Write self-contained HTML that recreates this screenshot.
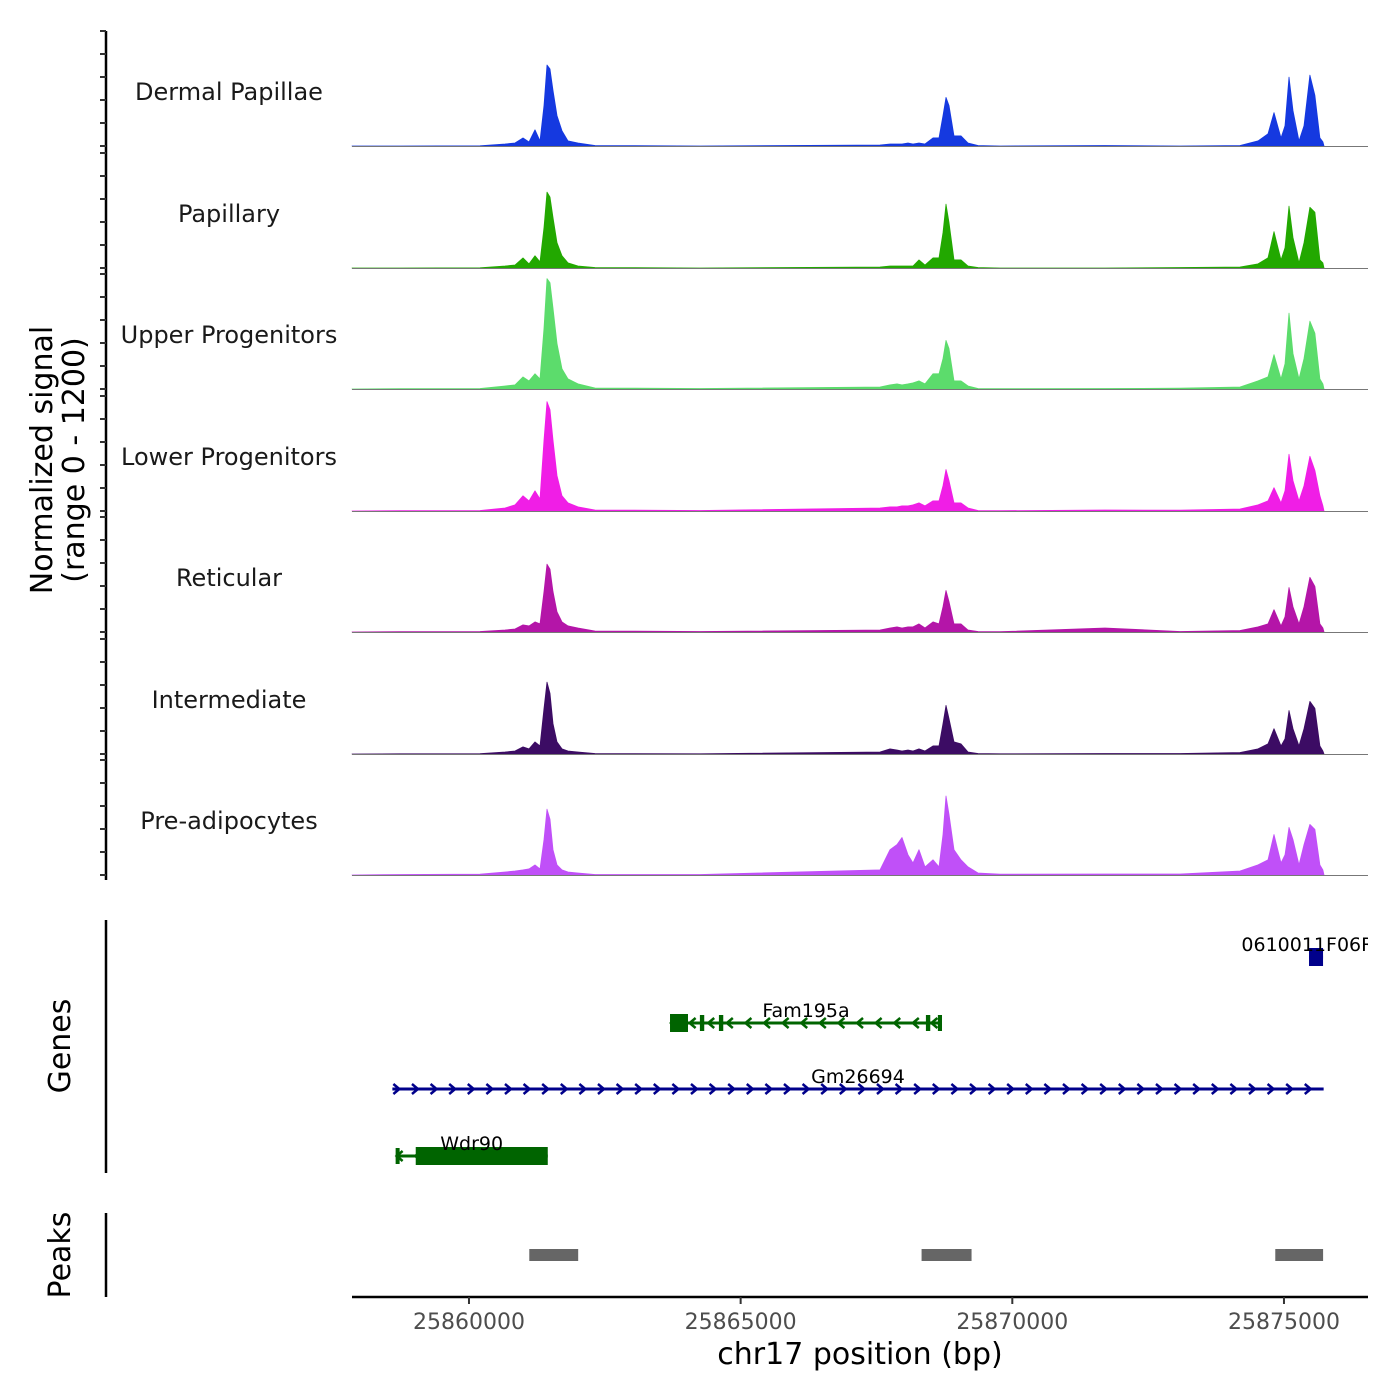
<!DOCTYPE html>
<html><head><meta charset="utf-8">
<style>
html,body{margin:0;padding:0;background:#fff;}
svg{display:block;font-family:"DejaVu Sans","Liberation Sans",sans-serif;}
</style></head>
<body>
<svg id="chart" width="1400" height="1400" viewBox="0 0 1400 1400" xmlns="http://www.w3.org/2000/svg">
<rect width="1400" height="1400" fill="#fff"/>
<text transform="translate(52,460) rotate(-90)" text-anchor="middle" font-size="30" fill="#000">Normalized signal</text>
<text transform="translate(84,460) rotate(-90)" text-anchor="middle" font-size="30" fill="#000">(range 0 - 1200)</text>
<text transform="translate(70,1046) rotate(-90)" text-anchor="middle" font-size="30" fill="#000">Genes</text>
<text transform="translate(70,1255) rotate(-90)" text-anchor="middle" font-size="30" fill="#000">Peaks</text>
<text x="860" y="1364" text-anchor="middle" font-size="30" fill="#000">chr17 position (bp)</text>
<g id="layer"></g>
</svg>
<script>
const positions=[25857847,25858730,25860203,25860663,25860847,25860994,25861105,25861215,25861307,25861381,25861436,25861491,25861546,25861620,25861712,25861822,25862007,25862319,25864252,25867565,25867749,25867878,25867970,25868080,25868172,25868283,25868393,25868540,25868651,25868724,25868780,25868835,25868927,25869056,25869184,25869369,25869773,25871706,25873086,25874191,25874522,25874706,25874816,25874945,25875019,25875092,25875166,25875276,25875368,25875478,25875570,25875662,25875717,25875736];
const trackNames=["Dermal Papillae","Papillary","Upper Progenitors","Lower Progenitors","Reticular","Intermediate","Pre-adipocytes"];
const trackColors=["#1539e0","#22a800","#5cdc6c","#f01ee6","#b415a8","#3c0c64","#c050f8"];
const dermalValues=[0,0,2,20,30,80,40,160,50,400,800,760,550,300,150,50,30,5,0,10,20,20,20,30,20,30,20,80,80,300,480,400,100,100,30,5,0,5,0,5,50,120,330,80,200,680,350,50,200,700,500,80,40,0];
const papillaryValues=[0,0,2,20,30,100,40,120,60,400,750,700,500,250,120,50,20,5,0,10,20,20,20,20,20,80,30,100,100,350,630,450,80,80,20,5,0,0,5,10,40,100,360,80,200,610,300,50,250,600,550,80,50,0];
const upperValues=[0,3,5,30,40,120,80,150,100,600,1090,1050,800,450,200,100,50,10,5,20,40,50,40,50,60,80,50,150,150,300,480,400,80,80,30,5,3,5,8,20,80,120,340,100,250,750,350,100,300,670,550,100,50,0];
const lowerValues=[0,3,5,30,60,150,100,200,120,700,1080,1000,700,350,150,80,40,10,5,30,40,40,50,50,60,80,50,100,100,250,410,300,80,80,30,5,3,10,8,20,60,100,230,80,200,560,300,100,250,540,400,150,50,0];
const reticularValues=[0,3,5,20,30,70,60,100,80,400,670,620,400,200,100,60,40,10,5,20,40,50,40,50,50,80,40,100,80,250,410,300,80,80,20,5,3,40,5,15,50,80,220,60,150,440,250,80,250,540,450,80,40,0];
const intermediateValues=[0,2,4,20,30,70,50,120,80,450,710,600,300,120,50,30,20,5,2,20,50,40,30,40,30,50,30,80,80,300,480,350,120,100,20,5,2,5,5,15,50,100,250,80,150,430,250,80,250,520,450,80,30,0];
const preadipValues=[0,5,8,30,40,50,60,100,60,350,650,550,250,100,50,30,20,5,5,50,250,300,370,200,120,250,80,150,80,400,780,600,250,150,80,20,8,10,10,40,100,150,400,120,200,470,350,100,300,500,450,100,50,0];
const trackValues=[dermalValues,papillaryValues,upperValues,lowerValues,reticularValues,intermediateValues,preadipValues];
const xTicks=[25860000,25865000,25870000,25875000];
const peakStarts=[25861110,25868330,25874840];
const peakEnds=[25862010,25869250,25875720];
const geneNames=["0610011F06Rik","Fam195a","Gm26694","Wdr90"];
const geneStarts=[25875461,25863700,25858590,25858650];
const geneEnds=[25875719,25868706,25875730,25861450];
const geneStrands=[1,-1,1,-1];
const geneRows=[0,1,2,3];
const geneColors=["#00008b","#006400","#00008b","#006400"];
const geneExonStarts=[[25875461],[25863700,25864250,25864600,25868410,25868630],[],[25858650,25859020]];
const geneExonEnds=[[25875719],[25864031,25864330,25864680,25868490,25868706],[],[25858720,25861450]];

const NS="http://www.w3.org/2000/svg";
const layer=document.getElementById('layer');
const X0=25857847, PX=0.054333, LEFT=352, RIGHT=1368;
function xs(bp){return LEFT+(bp-X0)*PX;}
const baselines=[146,268,389,511,632,754,875];
const unitPx=121.5/1200;
function ys(v,t){return baselines[t]-v*unitPx;}
function mk(tag,attrs,parent){const e=document.createElementNS(NS,tag);for(const k in attrs)e.setAttribute(k,attrs[k]);(parent||layer).appendChild(e);return e;}

const ax=mk('line',{x1:106,y1:31,x2:106,y2:880,stroke:'#000','stroke-width':2.5});


for(let t=0;t<7;t++){
  for(let k=0;k<6;k++){
    const y=baselines[t]-k*23;
    const tk=mk('line',{x1:100,y1:y,x2:106,y2:y,stroke:'#333','stroke-width':2});
    
    
  }
  const g=mk('g',{});
  
  
  let d='M'+xs(positions[0]).toFixed(1)+','+baselines[t];
  const vals=trackValues[t];
  for(let i=0;i<positions.length;i++){d+=' L'+xs(positions[i]).toFixed(1)+','+ys(vals[i],t).toFixed(1);}
  d+=' L'+xs(positions[positions.length-1]).toFixed(1)+','+baselines[t]+' Z';
  const p=mk('path',{d:d,fill:trackColors[t],stroke:trackColors[t],'stroke-width':0.8,'stroke-linejoin':'round'},g);
  
  
  const bl=mk('line',{x1:LEFT,y1:baselines[t]+0.5,x2:RIGHT,y2:baselines[t]+0.5,stroke:'#777','stroke-width':1},g);
  
  
  const lb=mk('text',{x:229,y:baselines[t]-46,'text-anchor':'middle','font-size':24,fill:'#1a1a1a'},g);
  lb.textContent=trackNames[t];
  
  
}

const gax=mk('line',{x1:106,y1:920,x2:106,y2:1173,stroke:'#000','stroke-width':2.5});


const rowY=[957,1023,1089,1156];
const defs=mk('defs',{});
const clip=mk('clipPath',{id:'gclip'},defs);
mk('rect',{x:LEFT,y:900,width:RIGHT-LEFT,height:300},clip);
const gg=mk('g',{'clip-path':'url(#gclip)'});
for(let i=0;i<geneNames.length;i++){
  const g=mk('g',{},gg);
  
  
  const y=rowY[geneRows[i]], c=geneColors[i];
  const x1=xs(geneStarts[i]), x2=xs(geneEnds[i]);
  mk('line',{x1:x1,y1:y,x2:x2,y2:y,stroke:c,'stroke-width':3},g);
  for(let x=x1+4;x<x2-2;x+=18.6){
    const s=geneStrands[i];
    const d=s>0?`M${x-3},${y-5} L${x+3},${y} L${x-3},${y+5}`:`M${x+3},${y-5} L${x-3},${y} L${x+3},${y+5}`;
    mk('path',{d:d,fill:'none',stroke:c,'stroke-width':2.5},g);
  }
  for(let e=0;e<geneExonStarts[i].length;e++){
    const ex1=xs(geneExonStarts[i][e]), ex2=xs(geneExonEnds[i][e]);
    const w=Math.max(4,ex2-ex1);
    const thin=(w<8);
    mk('rect',{x:ex1,y:y-(thin?8:9),width:w,height:thin?16:18,fill:c},g);
  }
  const cx=(x1+x2)/2;
  const t=mk('text',{x:cx,y:y-6,'text-anchor':'middle','font-size':19,fill:'#000'},g);
  t.textContent=geneNames[i];
  
  
}

const pax=mk('line',{x1:106,y1:1213,x2:106,y2:1297,stroke:'#000','stroke-width':2.5});


for(let i=0;i<peakStarts.length;i++){
  const r=mk('rect',{x:xs(peakStarts[i]),y:1249,width:xs(peakEnds[i])-xs(peakStarts[i]),height:12,fill:'#666'});
  
  
}

const xa=mk('line',{x1:LEFT,y1:1297,x2:RIGHT,y2:1297,stroke:'#000','stroke-width':2.5});


for(const v of xTicks){
  const x=xs(v);
  const tk=mk('line',{x1:x,y1:1297,x2:x,y2:1304,stroke:'#333','stroke-width':2});
  
  
  const t=mk('text',{x:x,y:1329,'text-anchor':'middle','font-size':22,fill:'#4d4d4d'});
  t.textContent=String(v);
  
  
}
</script>
</body></html>
